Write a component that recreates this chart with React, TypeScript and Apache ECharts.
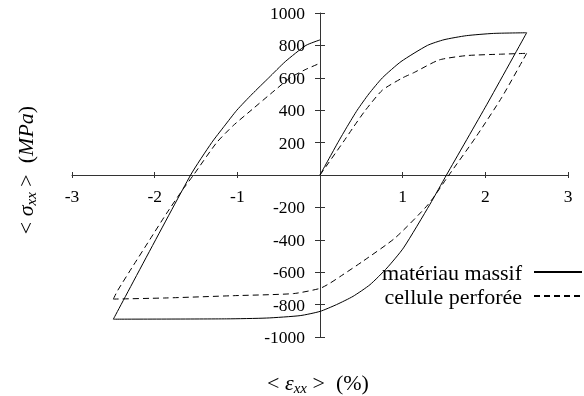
import React, { useEffect, useRef } from "react";
import * as echarts from "echarts";

// Tick values
const xTicks = [-3, -2, -1, 0, 1, 2, 3];
const yTicks = [-1000, -800, -600, -400, -200, 0, 200, 400, 600, 800, 1000];

const seriesNames = ["matériau massif", "cellule perforée"];

// matériau massif
const massifLoadStrain = [0, 0.216, 0.33, 0.45, 0.59, 0.755, 0.98, 1.3, 1.5, 1.77, 2.1, 2.5];
const massifLoadStress = [0, 200, 300, 400, 500, 600, 700, 800, 835, 860, 874, 878];
const massifUnloadStrain = [2.5, 2.02, 1.53, 1.33, 1.01, 0.81, 0.605, 0.4, 0.2, 0, -0.24, -0.645, -1.13, -2.5];
const massifUnloadStress = [878, 437, 0, -181, -450, -574, -677, -749, -800, -842, -868, -883, -888, -890];
const massifReloadStrain = [-2.5, -1.565, -1.31, -1.16, -1.006, -0.82, -0.62, -0.42, -0.17, 0];
const massifReloadStress = [-890, 0, 200, 300, 400, 500, 600, 700, 800, 834];

// cellule perforée
const perforeeLoadStrain = [0, 0.29, 0.41, 0.55, 0.755, 1.0, 1.14, 1.44, 1.77, 2.2, 2.5];
const perforeeLoadStress = [0, 210, 300, 400, 524, 600, 633, 710, 737, 746, 751];
const perforeeUnloadStrain = [2.5, 2.2, 1.88, 1.56, 1.31, 0.91, 0.52, 0.24, 0.12, 0, -0.32, -1.05, -1.86, -2.5];
const perforeeUnloadStress = [751, 480, 230, 0, -181, -388, -532, -628, -668, -700, -732, -745, -759, -766];
const perforeeReloadStrain = [-2.5, -2.45, -2.26, -2.06, -1.86, -1.66, -1.53, -1.25, -1.05, -0.82, -0.6, -0.36, -0.18, 0];
const perforeeReloadStress = [-766, -715, -560, -400, -240, -90, 0, 200, 305, 405, 500, 600, 650, 690];

export default function App() {
  const ref = useRef<HTMLDivElement>(null);
  useEffect(() => {
    const chart = echarts.init(ref.current!, null, { renderer: "svg" });
    const zip = (xs: number[], ys: number[]) => xs.map((x, i) => [x, ys[i]]);
    const font = "'Liberation Serif', 'Times New Roman', serif";
    const axisColor = "#333";
    const hideZero = (v: number) => (v === 0 ? "" : String(v));
    const richTitle = {
      n: { fontSize: 22, fontFamily: font, lineHeight: 26, fill: "#000", color: "#000" },
      i: { fontSize: 22, fontFamily: font, fontStyle: "italic", lineHeight: 26, fill: "#000", color: "#000" },
      s: { fontSize: 15, fontFamily: font, fontStyle: "italic", lineHeight: 15, verticalAlign: "bottom", fill: "#000", color: "#000" },
    };
    const mkSeries = (name: string, xs: number[], ys: number[], type: any) => ({
      name, type: "line", xAxisIndex: 0, yAxisIndex: 0,
      data: zip(xs, ys),
      symbol: "none", showSymbol: false, smooth: 0.2,
      lineStyle: { color: "#000", width: 1, type },
      itemStyle: { color: "#000" },
    });
    chart.setOption({
      animation: false,
      grid: { left: 72, right: 16, top: 13, bottom: 59, containLabel: false, outerBoundsMode: "none" },
      xAxis: [
        {
          type: "value", min: xTicks[0], max: xTicks[xTicks.length - 1], interval: 1,
          position: "bottom",
          axisLine: { show: true, onZero: true, onZeroAxisIndex: 0, lineStyle: { color: axisColor, width: 1 } },
          axisTick: { show: true, length: 3, lineStyle: { color: axisColor, width: 1 } },
          axisLabel: { margin: -150, fontSize: 17.5, fontFamily: font, color: "#000", formatter: hideZero },
          splitLine: { show: false },
        },
        {
          type: "value", min: xTicks[0], max: xTicks[xTicks.length - 1], interval: 1,
          position: "bottom",
          axisLine: { show: false, onZero: true, onZeroAxisIndex: 0 },
          axisTick: { show: true, inside: true, length: 3, lineStyle: { color: axisColor, width: 1 } },
          axisLabel: { show: false },
          splitLine: { show: false },
        },
      ],
      yAxis: [
        {
          type: "value", min: yTicks[0], max: yTicks[yTicks.length - 1], interval: 200,
          position: "left",
          axisLine: { show: true, onZero: true, onZeroAxisIndex: 0, lineStyle: { color: axisColor, width: 1 } },
          axisTick: { show: true, length: 5, lineStyle: { color: axisColor, width: 1 } },
          axisLabel: { margin: -233, fontSize: 17.5, fontFamily: font, color: "#000", formatter: hideZero },
          splitLine: { show: false },
        },
        {
          type: "value", min: yTicks[0], max: yTicks[yTicks.length - 1], interval: 200,
          position: "left",
          axisLine: { show: false, onZero: true, onZeroAxisIndex: 0 },
          axisTick: { show: true, inside: true, length: 5, lineStyle: { color: axisColor, width: 1 } },
          axisLabel: { show: false },
          splitLine: { show: false },
        },
      ],
      legend: {
        data: seriesNames,
        orient: "vertical",
        right: 1,
        top: 261,
        padding: 0,
        align: "right",
        itemWidth: 48,
        itemHeight: 14,
        itemGap: 2,
        selectedMode: false,
        itemStyle: { color: "rgba(0,0,0,0)", borderWidth: 0, opacity: 0 },
        textStyle: { fontSize: 22, fontFamily: font, color: "#000", lineHeight: 22, padding: [0, 7, 0, 0] },
      },
      series: [
        mkSeries(seriesNames[0], massifLoadStrain, massifLoadStress, "solid"),
        mkSeries(seriesNames[0], massifUnloadStrain, massifUnloadStress, "solid"),
        mkSeries(seriesNames[0], massifReloadStrain, massifReloadStress, "solid"),
        mkSeries(seriesNames[1], perforeeLoadStrain, perforeeLoadStress, [6, 4]),
        mkSeries(seriesNames[1], perforeeUnloadStrain, perforeeUnloadStress, [6, 4]),
        mkSeries(seriesNames[1], perforeeReloadStrain, perforeeReloadStress, [6, 4]),
      ],
      graphic: [
        {
          type: "text", x: 318, y: 382,
          style: { text: "{n|< }{i|ε}{s|xx}{n| >  (%)}", rich: richTitle, align: "center", verticalAlign: "middle" },
        },
        {
          type: "text", x: 25, y: 170, rotation: Math.PI / 2,
          style: { text: "{n|< }{i|σ}{s|xx}{n| >  (}{i|MPa}{n|)}", rich: richTitle, align: "center", verticalAlign: "middle" },
        },
      ],
    });
    return () => chart.dispose();
  }, []);
  return <div ref={ref} style={{ position: "fixed", left: 0, top: 0, width: 584, height: 396 }} />;
}
